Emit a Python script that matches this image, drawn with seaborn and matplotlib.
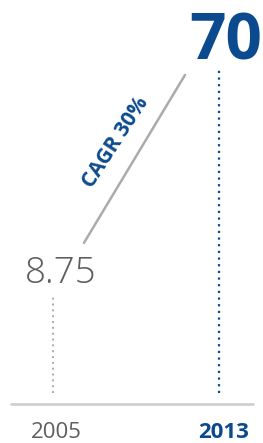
import matplotlib
matplotlib.use("Agg")
import matplotlib.pyplot as plt
from matplotlib.transforms import offset_copy
import seaborn as sns
import pandas as pd

# -----------------------------
# DATA
# -----------------------------
years = ["2005", "2013"]
values = [8.75, 70]
value_labels = ["8.75", "70"]
cagr_label = "CAGR 30%"

BLUE = "#0b4a8f"
GREY_TEXT = "#5e5e5e"
GREY_LINE = "#ababab"
BASE_LINE = "#cfcfcf"

df = pd.DataFrame({"year": years, "pos": [0, 1], "value": values})

# -----------------------------
# FIGURE
# -----------------------------
sns.set_theme(style="white")
plt.rcParams["font.family"] = ["Open Sans", "DejaVu Sans"]

fig = plt.figure(figsize=(2.63, 4.43), dpi=100)
ax = fig.add_axes([0, 0, 1, 1])
ax.set_yscale("log")
ax.set_xlim(-0.319, 1.265)
ax.set_ylim(2.32, 129.8)
ax.axis("off")

floor = 3.66
colors = [GREY_LINE, BLUE]
text_colors = [GREY_TEXT, BLUE]

# dotted stems
for i, row in df.iterrows():
    ax.vlines(row["pos"], floor, row["value"], colors=colors[i],
              linestyles=(0, (1, 2.0)), linewidth=1.6 if i else 1.4)

# value labels
ax.annotate(value_labels[0], (0, values[0]), xytext=(8, 14),
            textcoords="offset pixels", ha="center", va="baseline",
            fontsize=26.5, color=GREY_TEXT, fontweight="light")
ax.annotate(value_labels[1], (1, values[1]), xytext=(7, 8),
            textcoords="offset pixels", ha="center", va="baseline",
            fontsize=46, color=BLUE, fontweight="bold")

# growth line
start = offset_copy(ax.transData, fig=fig, x=31, y=54, units="dots")
end = offset_copy(ax.transData, fig=fig, x=-34, y=-7, units="dots")
ax.annotate("", xy=(1, values[1]), xycoords=end,
            xytext=(0, values[0]), textcoords=start,
            arrowprops=dict(arrowstyle="-", color=GREY_LINE, lw=1.8,
                            shrinkA=0, shrinkB=0))
fig.text(116 / 263, 1 - 142 / 443, cagr_label, rotation=57,
         ha="center", va="center", fontsize=15, fontweight="bold",
         color=BLUE, rotation_mode="anchor")

# baseline and year labels
fig.add_artist(plt.Line2D([11 / 263, 253 / 263], [1 - 404 / 443] * 2,
                          color=BASE_LINE, linewidth=2))
for i, yr in enumerate(years):
    fig.text((56.5 + 167 * i) / 263, 1 - 437.5 / 443, yr,
             ha="center", va="baseline", fontsize=16,
             color=text_colors[i], fontweight="bold" if i else "normal")

fig.savefig("out.png", dpi=100)
